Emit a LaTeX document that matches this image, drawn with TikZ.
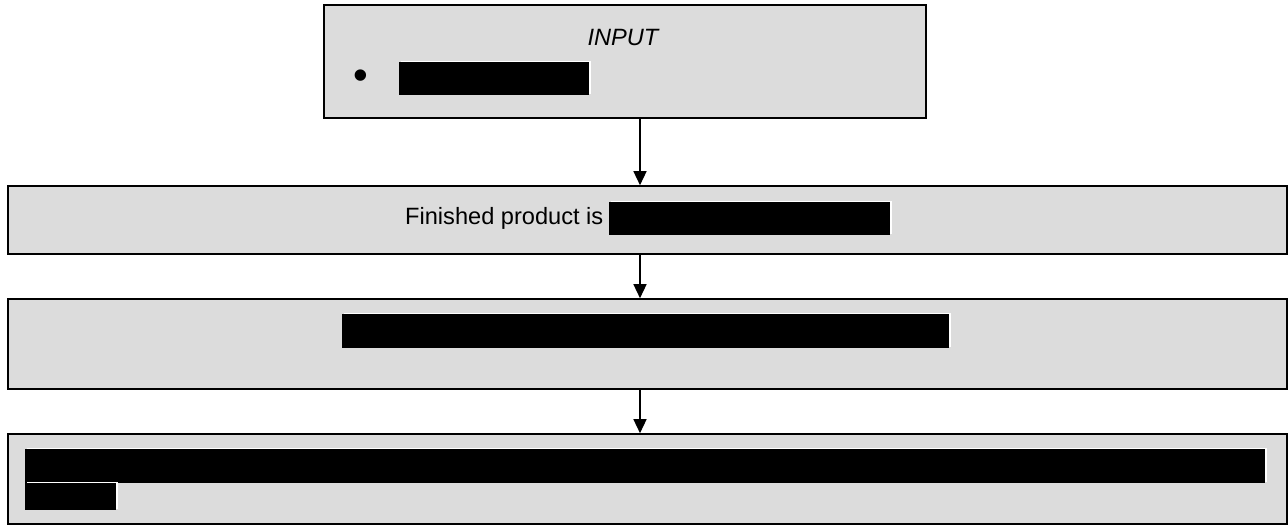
\documentclass[tikz,border=0pt]{standalone}
\usepackage{fontspec}
\setmainfont{Liberation Sans}
\usepackage{xcolor}
\definecolor{boxgrey}{HTML}{DCDCDC}
\definecolor{textmain}{HTML}{000000}
\usetikzlibrary{arrows.meta, positioning, calc}

\begin{document}
\begin{tikzpicture}[
        x=1pt, y=-1pt,
        font=\fontsize{23.6}{28}\selectfont,
        step_box/.style={
            rectangle,
            draw=black,
            line width=1.6pt,
            fill=boxgrey,
            inner sep=0pt
        },
        redact/.style={
            rectangle,
            fill=black,
            inner sep=0pt,
            preaction={fill=white, transform canvas={shift={(1.5pt,1.5pt)}}}
        },
        arrow/.style={
            -{Triangle[width=13pt, length=14pt]},
            draw=black,
            line width=1.4pt
        }
    ]
    \useasboundingbox (0,0) rectangle (1288,525);

    % Input box (top)
    \node[step_box, minimum width=602pt, minimum height=113pt] (input) at (625, 61.5) {};
    \node[anchor=base, text=textmain] (input_title) at (623, 45) {\itshape INPUT};
    \node[text=textmain, font=\fontsize{42}{42}\selectfont] (input_bullet) at (361, 80) {•};
    \node[redact, minimum width=190pt, minimum height=33pt] (input_item) at (494, 78.5) {};

    % Finished product box
    \node[step_box, minimum width=1279pt, minimum height=68pt] (finished) at (647.5, 220) {};
    \node[anchor=base west, inner sep=0pt, text=textmain] (finished_text) at (405, 224) {Finished product is};
    \node[redact, minimum width=281pt, minimum height=33pt] (finished_item) at (749.5, 218.5) {};

    % Third box
    \node[step_box, minimum width=1279pt, minimum height=90pt] (stage3) at (647.5, 344) {};
    \node[redact, minimum width=607pt, minimum height=34pt] (stage3_item) at (645.5, 331) {};

    % Last box (two lines)
    \node[step_box, minimum width=1279pt, minimum height=90pt] (stage4) at (647.5, 479) {};
    \node[redact, minimum width=1240pt, minimum height=34pt] (stage4_line1) at (645, 466) {};
    \node[redact, minimum width=91pt, minimum height=27pt] (stage4_line2) at (70.5, 496.5) {};

    % Arrows down the spine
    \coordinate (spine) at (640, 0);
    \draw[arrow] (input.south -| spine) -- (finished.north -| spine);
    \draw[arrow] (finished.south -| spine) -- (stage3.north -| spine);
    \draw[arrow] (stage3.south -| spine) -- (stage4.north -| spine);

\end{tikzpicture}
\end{document}
